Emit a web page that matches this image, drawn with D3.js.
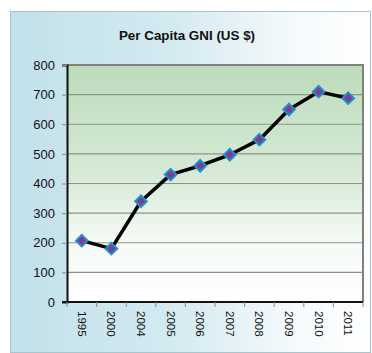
<!DOCTYPE html>
<html>
<head>
<meta charset="utf-8">
<script src="https://cdn.jsdelivr.net/npm/d3@7"></script>
<style>
  html, body { margin: 0; padding: 0; background: #fff; }
  svg { display: block; font-family: Arial, "Liberation Sans", sans-serif; }
</style>
</head>
<body>
<svg id="chart" width="372" height="353"></svg>
<script>
// Per capita GNI by year
const years = ["1995", "2000", "2004", "2005", "2006", "2007", "2008", "2009", "2010", "2011"];
const gni = [207, 180, 340, 430, 460, 497, 548, 650, 710, 688];
const yTicks = [0, 100, 200, 300, 400, 500, 600, 700, 800];
const chartTitle = "Per Capita GNI (US $)";

const svg = d3.select("#chart");
const defs = svg.append("defs");

// Panel background: soft blue fading to white
const panelGrad = defs.append("linearGradient").attr("id", "panelGrad")
  .attr("x1", "0%").attr("x2", "100%").attr("y1", "0%").attr("y2", "0%");
panelGrad.append("stop").attr("offset", "0%").attr("stop-color", "#c2e1ea");
panelGrad.append("stop").attr("offset", "45%").attr("stop-color", "#d3eaf1");
panelGrad.append("stop").attr("offset", "80%").attr("stop-color", "#f6fafc");
panelGrad.append("stop").attr("offset", "100%").attr("stop-color", "#ffffff");

// Plot area: green at top fading to white at the bottom
const plotGrad = defs.append("linearGradient").attr("id", "plotGrad")
  .attr("x1", "0%").attr("x2", "0%").attr("y1", "0%").attr("y2", "100%");
plotGrad.append("stop").attr("offset", "0%").attr("stop-color", "#bcdcbb");
plotGrad.append("stop").attr("offset", "45%").attr("stop-color", "#d6e9d5");
plotGrad.append("stop").attr("offset", "75%").attr("stop-color", "#f5faf5");
plotGrad.append("stop").attr("offset", "100%").attr("stop-color", "#ffffff");

svg.append("rect")
  .attr("x", 10.5).attr("y", 11.5).attr("width", 360).attr("height", 341)
  .attr("fill", "url(#panelGrad)")
  .attr("stroke", "#a9c4cc").attr("stroke-width", 1);

const plot = { left: 67, right: 363, top: 65, bottom: 302 };

const x = d3.scaleBand().domain(years).range([plot.left, plot.right]);
const y = d3.scaleLinear().domain([0, 800]).range([plot.bottom, plot.top]);

svg.append("rect")
  .attr("x", plot.left).attr("y", plot.top)
  .attr("width", plot.right - plot.left).attr("height", plot.bottom - plot.top)
  .attr("fill", "url(#plotGrad)");

// Horizontal gridlines
svg.append("g").selectAll("line")
  .data(yTicks.filter(d => d > 0 && d < 800))
  .join("line")
  .attr("x1", plot.left).attr("x2", plot.right)
  .attr("y1", d => y(d)).attr("y2", d => y(d))
  .attr("stroke", "#8a948a").attr("stroke-width", 1.2);

// Top and right frame
svg.append("path")
  .attr("d", `M${plot.left},${plot.top}H${plot.right}V${plot.bottom}`)
  .attr("fill", "none").attr("stroke", "#808080").attr("stroke-width", 2);

// Y axis
const yAxis = svg.append("g")
  .attr("transform", `translate(${plot.left},0)`)
  .call(d3.axisLeft(y).tickValues(yTicks).tickSize(5).tickPadding(7));
yAxis.select(".domain").attr("stroke", "#111").attr("stroke-width", 2);
yAxis.selectAll(".tick line").attr("stroke", "#888");
yAxis.selectAll(".tick text")
  .attr("font-size", 13).attr("fill", "#111")
  .attr("font-family", "Arial, 'Liberation Sans', sans-serif");

// X axis: ticks on band boundaries, labels rotated
const xAxisG = svg.append("g").attr("transform", `translate(0,${plot.bottom})`);
xAxisG.append("line")
  .attr("x1", plot.left - 5).attr("x2", plot.right)
  .attr("stroke", "#111").attr("stroke-width", 2);
const bounds = years.map(d => x(d)).concat([x(years[years.length - 1]) + x.bandwidth()]);
xAxisG.selectAll(".bt").data(bounds).join("line")
  .attr("class", "bt")
  .attr("x1", d => d).attr("x2", d => d)
  .attr("y1", 0).attr("y2", 5)
  .attr("stroke", "#888").attr("stroke-width", 1);
xAxisG.selectAll("text").data(years).join("text")
  .attr("transform", d => `translate(${x(d) + x.bandwidth() / 2},9) rotate(90)`)
  .attr("dy", "0.35em")
  .attr("font-size", 11.5).attr("fill", "#111")
  .text(d => d);

// Series line
const pts = years.map((d, i) => [x(d) + x.bandwidth() / 2, y(gni[i])]);
svg.append("path")
  .attr("d", d3.line()(pts))
  .attr("fill", "none").attr("stroke", "#000")
  .attr("stroke-width", 3.5).attr("stroke-linejoin", "round");

// Diamond markers
const diamond = d3.symbol().type(d3.symbolDiamond2).size(85);
svg.append("g").selectAll("path")
  .data(pts).join("path")
  .attr("transform", d => `translate(${d[0]},${d[1]})`)
  .attr("d", diamond)
  .attr("fill", "#7b3f8f").attr("stroke", "#1f8fd0").attr("stroke-width", 2);

// Title
svg.append("text")
  .attr("x", 187).attr("y", 40)
  .attr("text-anchor", "middle")
  .attr("font-size", 13.4).attr("font-weight", "bold").attr("fill", "#111")
  .text(chartTitle);
</script>
</body>
</html>
